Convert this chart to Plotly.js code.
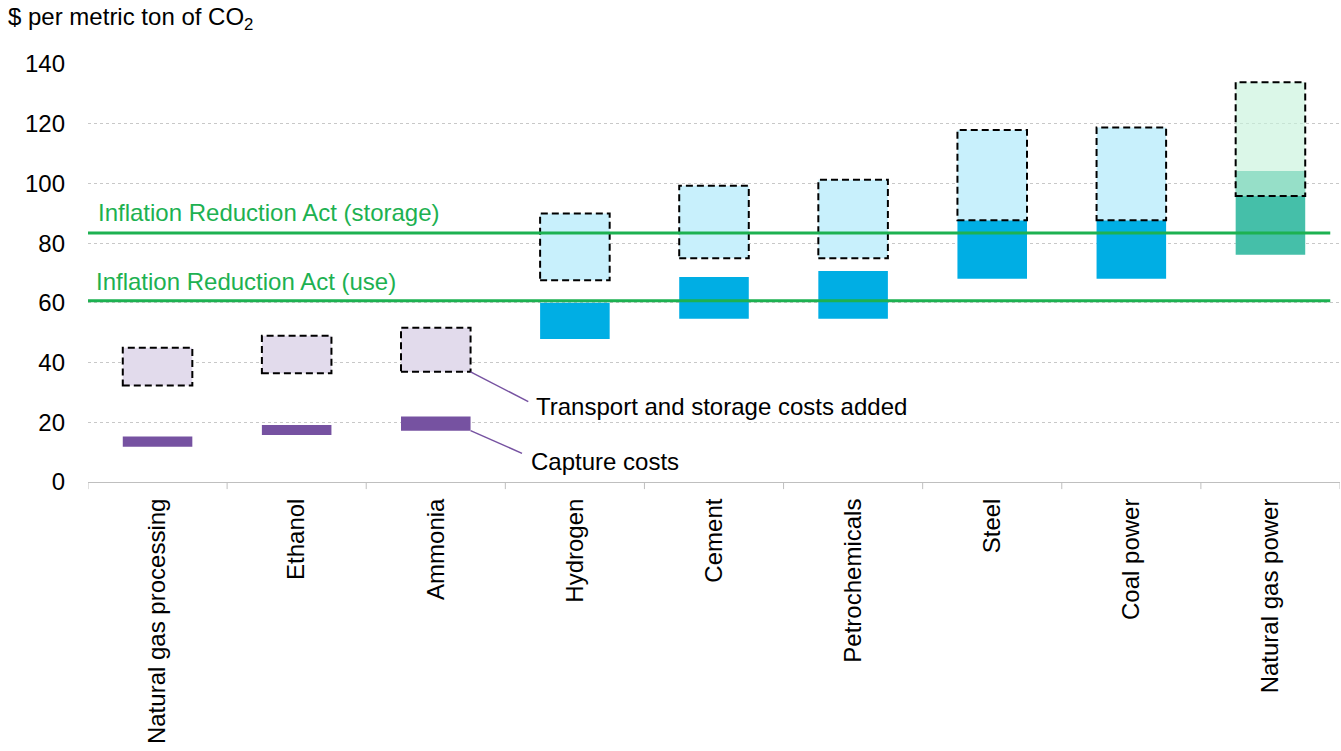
<!DOCTYPE html>
<html>
<head>
<meta charset="utf-8">
<script src="https://cdn.plot.ly/plotly-3.0.1.min.js"></script>
<style>
  html, body { margin: 0; padding: 0; background: #ffffff; }
  #chart { width: 1341px; height: 751px; }
</style>
</head>
<body>
<div id="chart"></div>
<script>
// Cost of carbon capture by source, $ per metric ton of CO2
const categories = ["Natural gas processing", "Ethanol", "Ammonia", "Hydrogen", "Cement",
                    "Petrochemicals", "Steel", "Coal power", "Natural gas power"];
const captureLow    = [11.8, 15.7, 17.2, 47.9, 54.7, 54.7, 68.1, 68.1, 76.1];
const captureHigh   = [15.2, 19.1, 21.9, 60.0, 68.7, 70.7, 87.7, 87.7, 104.2];
const transportLow  = [32.3, 36.4, 36.9, 67.6, 74.9, 74.9, 87.7, 87.7, 95.8];
const transportHigh = [45.0, 49.0, 51.7, 89.9, 99.2, 101.2, 117.9, 118.7, 133.9];
const creditStorage = 83.4;   // Inflation Reduction Act credit, storage
const creditUse = 60.7;       // Inflation Reduction Act credit, use
const yTicks = [0, 20, 40, 60, 80, 100, 120, 140];

// Colour group of each category
const group = ["low", "low", "low", "mid", "mid", "mid", "mid", "mid", "gas"];
const captureColor = { low: "#7652A1", mid: "#00AEE4", gas: "#45BFA9" };
const transportColor = { low: "#E2DBEC", mid: "#C8F0FC", gas: "rgba(198,242,218,0.63)" };

const idx = categories.map((_, i) => i);
const barWidth = 0.5;

const captureTrace = {
  type: "bar",
  x: idx,
  base: captureLow,
  y: captureHigh.map((h, i) => h - captureLow[i]),
  width: barWidth,
  marker: { color: group.map(g => captureColor[g]), line: { width: 0 } },
  hoverinfo: "skip",
  showlegend: false
};

const transportTrace = {
  type: "bar",
  x: idx,
  base: transportLow,
  y: transportHigh.map((h, i) => h - transportLow[i]),
  width: barWidth,
  marker: { color: group.map(g => transportColor[g]), line: { width: 0 } },
  hoverinfo: "skip",
  showlegend: false
};

// Dashed outlines around the transport-and-storage ranges
const shapes = idx.map(i => ({
  type: "rect", xref: "x", yref: "y", layer: "above",
  x0: i - barWidth / 2, x1: i + barWidth / 2,
  y0: transportLow[i], y1: transportHigh[i],
  line: { color: "#000000", width: 2, dash: "7px,4px" },
  fillcolor: "rgba(0,0,0,0)"
}));

// Credit reference lines
[creditStorage, creditUse].forEach(v => shapes.push({
  type: "line", xref: "x", yref: "y", layer: "above",
  x0: -0.5, x1: 8.43, y0: v, y1: v,
  line: { color: "#1DB151", width: 3 }
}));

// Leader lines from the Ammonia bars to their labels
const ammonia = 2;
shapes.push({
  type: "line", xref: "x", yref: "y", layer: "above",
  x0: ammonia + barWidth / 2, y0: transportLow[ammonia],
  x1: ammonia + 0.665, y1: 26.9,
  line: { color: "#7652A1", width: 1.5 }
});
shapes.push({
  type: "line", xref: "x", yref: "y", layer: "above",
  x0: ammonia + barWidth / 2, y0: captureLow[ammonia],
  x1: ammonia + 0.62, y1: 9.6,
  line: { color: "#7652A1", width: 1.5 }
});

const textFont = { family: "Liberation Sans, Arial, sans-serif", size: 24, color: "#000000" };
const greenFont = { family: "Liberation Sans, Arial, sans-serif", size: 24, color: "#1DB151" };

const annotations = [
  {
    xref: "paper", yref: "paper", x: -0.0655, y: 1.11,
    xanchor: "left", yanchor: "middle", showarrow: false,
    text: "$ per metric ton of CO<sub>2</sub>", font: textFont
  },
  {
    xref: "x", yref: "y", x: -0.44, y: 90.4,
    xanchor: "left", yanchor: "middle", showarrow: false,
    text: "Inflation Reduction Act (storage)", font: greenFont
  },
  {
    xref: "x", yref: "y", x: -0.455, y: 67.0,
    xanchor: "left", yanchor: "middle", showarrow: false,
    text: "Inflation Reduction Act (use)", font: greenFont
  },
  {
    xref: "x", yref: "y", x: ammonia + 0.705, y: 25.2,
    xanchor: "left", yanchor: "middle", showarrow: false,
    text: "Transport and storage costs added", font: textFont
  },
  {
    xref: "x", yref: "y", x: ammonia + 0.67, y: 7.0,
    xanchor: "left", yanchor: "middle", showarrow: false,
    text: "Capture costs", font: textFont
  }
];

const layout = {
  width: 1341, height: 751,
  margin: { l: 88, r: 1, t: 64, b: 269, pad: 0 },
  paper_bgcolor: "#ffffff", plot_bgcolor: "#ffffff",
  barmode: "overlay",
  bargap: 0.5,
  showlegend: false,
  font: textFont,
  xaxis: {
    type: "linear",
    range: [-0.5, 8.5],
    tickmode: "array",
    tickvals: idx,
    ticktext: categories,
    tickangle: -90,
    showgrid: false,
    zeroline: false,
    showline: true,
    linecolor: "#BFBFBF",
    linewidth: 1,
    ticks: "",
    ticklabelstandoff: 6,
    tickfont: textFont,
    fixedrange: true
  },
  yaxis: {
    range: [0, 140],
    tickmode: "array",
    tickvals: yTicks,
    ticktext: yTicks.map(String),
    showgrid: true,
    gridcolor: "#C8C8C8",
    griddash: "dot",
    gridwidth: 1,
    zeroline: false,
    showline: false,
    ticks: "",
    ticklabelstandoff: 22,
    tickfont: textFont,
    fixedrange: true
  },
  shapes: shapes,
  annotations: annotations
};

// Category boundary tick marks below the axis
for (let i = 0; i <= categories.length; i++) {
  shapes.push({
    type: "line", xref: "x", yref: "paper", layer: "above",
    x0: i - 0.5, x1: i - 0.5, y0: 0, y1: -0.017,
    line: { color: "#BFBFBF", width: 1 }
  });
}

Plotly.newPlot("chart", [captureTrace, transportTrace], layout, { staticPlot: true });
</script>
</body>
</html>
